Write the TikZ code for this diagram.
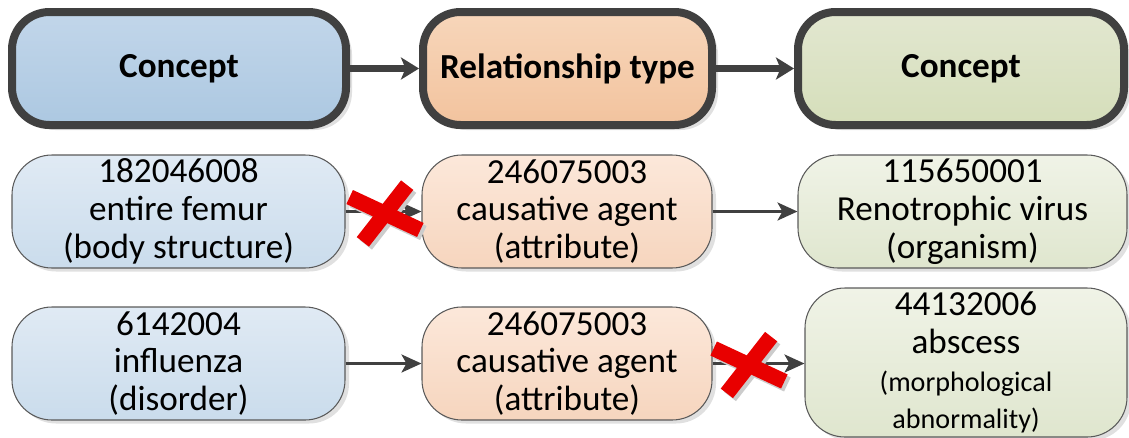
\documentclass[tikz,border=0pt]{standalone}
\usepackage{fontspec}
\setmainfont{Carlito}
\usetikzlibrary{arrows.meta,shadows}
\definecolor{darkline}{RGB}{64,64,64}
\definecolor{boxline}{RGB}{90,90,90}
\definecolor{crossred}{RGB}{232,0,0}
\definecolor{headblueT}{RGB}{194,214,234}
\definecolor{headblueB}{RGB}{172,200,225}
\definecolor{headorangeT}{RGB}{247,214,186}
\definecolor{headorangeB}{RGB}{242,195,158}
\definecolor{headgreenT}{RGB}{226,231,208}
\definecolor{headgreenB}{RGB}{213,222,186}
\definecolor{itemblueT}{RGB}{224,234,244}
\definecolor{itemblueB}{RGB}{202,220,236}
\definecolor{itemorangeT}{RGB}{252,232,218}
\definecolor{itemorangeB}{RGB}{246,213,190}
\definecolor{itemgreenT}{RGB}{240,243,231}
\definecolor{itemgreenB}{RGB}{223,230,206}
\newcommand\notefont{\fontsize{16}{19.5}\selectfont}

\begin{document}
\begin{tikzpicture}
  \tikzset{head box/.style={draw=darkline, line width=0.16cm, rounded corners=0.75cm,
      minimum height=2.26cm, inner sep=0pt,
      font=\fontsize{20}{24}\selectfont\bfseries,
      drop shadow={shadow xshift=0.12cm, shadow yshift=-0.1cm, fill=black, opacity=0.12}},
    item box/.style={draw=boxline, line width=0.6pt, rounded corners=0.8cm,
      minimum height=2.26cm, inner sep=0pt, align=center,
      font=\fontsize{20}{21.5}\selectfont,
      drop shadow={shadow xshift=0.08cm, shadow yshift=-0.07cm, fill=black, opacity=0.12}},
    head arrow/.style={draw=darkline, line width=0.14cm,
      -{Stealth[length=0.36cm, width=0.44cm, inset=0.09cm]}},
    item arrow/.style={draw=darkline, line width=0.055cm,
      -{Stealth[length=0.4cm, width=0.36cm, inset=0.1cm]}},
    cross bar/.style={line width=0.31cm, draw=crossred}
  }
  \useasboundingbox (0,0) rectangle (22.58,-8.74);

  \node [head box, top color=headblueT, bottom color=headblueB, minimum width=6.68cm] (headA) at (3.58,-1.37) {Concept};
  \node [head box, top color=headorangeT, bottom color=headorangeB, minimum width=5.78cm] (headB) at (11.35,-1.37) {Relationship type};
  \node [head box, top color=headgreenT, bottom color=headgreenB, minimum width=6.52cm] (headC) at (19.22,-1.37) {Concept};
  \draw [head arrow] (headA) -- (headB);
  \draw [head arrow] (headB) -- (headC);

  \node [item box, top color=itemblueT, bottom color=itemblueB, minimum width=6.66cm] (femur) at (3.57,-4.23) {182046008\\entire femur\\(body structure)};
  \node [item box, top color=itemorangeT, bottom color=itemorangeB, minimum width=5.8cm] (agentA) at (11.34,-4.23) {246075003\\causative agent\\(attribute)};
  \node [item box, top color=itemgreenT, bottom color=itemgreenB, minimum width=6.58cm] (virus) at (19.25,-4.23) {115650001\\Renotrophic virus\\(organism)};

  \node [item box, top color=itemblueT, bottom color=itemblueB, minimum width=6.66cm] (flu) at (3.57,-7.27) {6142004\\influenza\\(disorder)};
  \node [item box, top color=itemorangeT, bottom color=itemorangeB, minimum width=5.8cm] (agentB) at (11.34,-7.27) {246075003\\causative agent\\(attribute)};
  \node [item box, top color=itemgreenT, bottom color=itemgreenB, minimum width=6.44cm, minimum height=2.98cm] (abscess) at (19.32,-7.25) {44132006\\abscess\\\notefont(morphological\\\notefont abnormality)};

  \draw [item arrow] (femur) -- (agentA);
  \draw [item arrow] (agentA) -- (virus);
  \draw [item arrow] (flu) -- (agentB);
  \draw [item arrow] (agentB.east) -- (abscess.west |- agentB.east);

  \coordinate (noA) at (7.7,-4.27);
  \coordinate (noB) at (14.98,-7.3);
  \foreach \c in {noA,noB} {
    \begin{scope}[shift={(\c)}]
      \draw [cross bar, draw=black!20, xshift=0.06cm, yshift=-0.06cm] (155:0.78) -- (-25:0.78) (232:0.72) -- (52:0.72);
      \draw [cross bar] (155:0.78) -- (-25:0.78) (232:0.72) -- (52:0.72);
    \end{scope}
  }
\end{tikzpicture}
\end{document}
